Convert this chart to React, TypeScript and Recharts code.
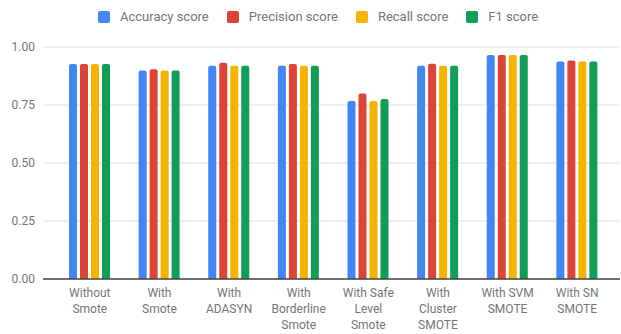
import { BarChart, Bar, XAxis, YAxis, CartesianGrid, Legend } from 'recharts';

const categories = [
  'Without\nSmote',
  'With\nSmote',
  'With\nADASYN',
  'With\nBorderline\nSmote',
  'With Safe\nLevel\nSmote',
  'With\nCluster\nSMOTE',
  'With SVM\nSMOTE',
  'With SN\nSMOTE',
];

const accuracy = [0.927, 0.899, 0.919, 0.919, 0.767, 0.919, 0.966, 0.938];
const precision = [0.927, 0.904, 0.932, 0.927, 0.8, 0.928, 0.966, 0.942];
const recall = [0.927, 0.899, 0.919, 0.919, 0.767, 0.919, 0.966, 0.938];
const f1 = [0.927, 0.899, 0.919, 0.919, 0.776, 0.919, 0.966, 0.938];

const yTicks = [0, 0.25, 0.5, 0.75, 1];

const SERIES = [
  { key: 'accuracy', name: 'Accuracy score', color: '#4285F4' },
  { key: 'precision', name: 'Precision score', color: '#DB4437' },
  { key: 'recall', name: 'Recall score', color: '#F4B400' },
  { key: 'f1', name: 'F1 score', color: '#0F9D58' },
];

const data = categories.map((c, i) => ({
  name: c,
  accuracy: accuracy[i],
  precision: precision[i],
  recall: recall[i],
  f1: f1[i],
}));

const FONT = 'Roboto, Arial, sans-serif';

const CategoryTick = (props: any) => {
  const { x, y, payload } = props;
  const lines = String(payload.value).split('\n');
  return (
    <text x={x} y={y} textAnchor="middle" fill="#757575" fontSize={12} fontFamily={FONT}>
      {lines.map((line, i) => (
        <tspan key={i} x={x} dy={i === 0 ? 18 : 16}>
          {line}
        </tspan>
      ))}
    </text>
  );
};

const renderLegend = () => (
  <div style={{ height: 47, position: 'relative', fontFamily: FONT }}>
    <div style={{ display: 'flex', alignItems: 'center', position: 'absolute', top: 10, left: 98, gap: 18 }}>
      {SERIES.map((s) => (
        <div key={s.key} style={{ display: 'flex', alignItems: 'center', gap: 10 }}>
          <div style={{ width: 12, height: 12, borderRadius: 2, backgroundColor: s.color }} />
          <span style={{ color: '#757575', fontSize: 13, lineHeight: '14px' }}>{s.name}</span>
        </div>
      ))}
    </div>
  </div>
);

export default function App() {
  return (
    <div style={{ position: 'fixed', left: 0, top: 0, width: 621, height: 334, background: '#fff' }}>
      <BarChart
        width={621}
        height={334}
        data={data}
        margin={{ top: 0, right: 1, bottom: 0, left: 0 }}
        barSize={8}
        barGap={3}
      >
        <Legend
          verticalAlign="top"
          content={renderLegend}
          wrapperStyle={{ top: 0, left: 0, width: 621 }}
        />
        <CartesianGrid vertical={false} stroke="#e0e0e0" strokeWidth={1} />
        <XAxis
          dataKey="name"
          tick={<CategoryTick />}
          tickLine={false}
          tickSize={0}
          tickMargin={0}
          axisLine={{ stroke: '#444', strokeWidth: 1.5 }}
          padding={{ left: 12, right: 8 }}
          interval={0}
          height={55}
        />
        <YAxis
          domain={[0, 1]}
          ticks={yTicks}
          tickFormatter={(v: number) => v.toFixed(2)}
          axisLine={false}
          tickLine={false}
          tickSize={0}
          tickMargin={8}
          width={43}
          tick={{ fill: '#757575', fontSize: 12, fontFamily: FONT }}
        />
        {SERIES.map((s) => (
          <Bar
            key={s.key}
            dataKey={s.key}
            name={s.name}
            fill={s.color}
            radius={[2, 2, 0, 0]}
            isAnimationActive={false}
          />
        ))}
      </BarChart>
    </div>
  );
}
